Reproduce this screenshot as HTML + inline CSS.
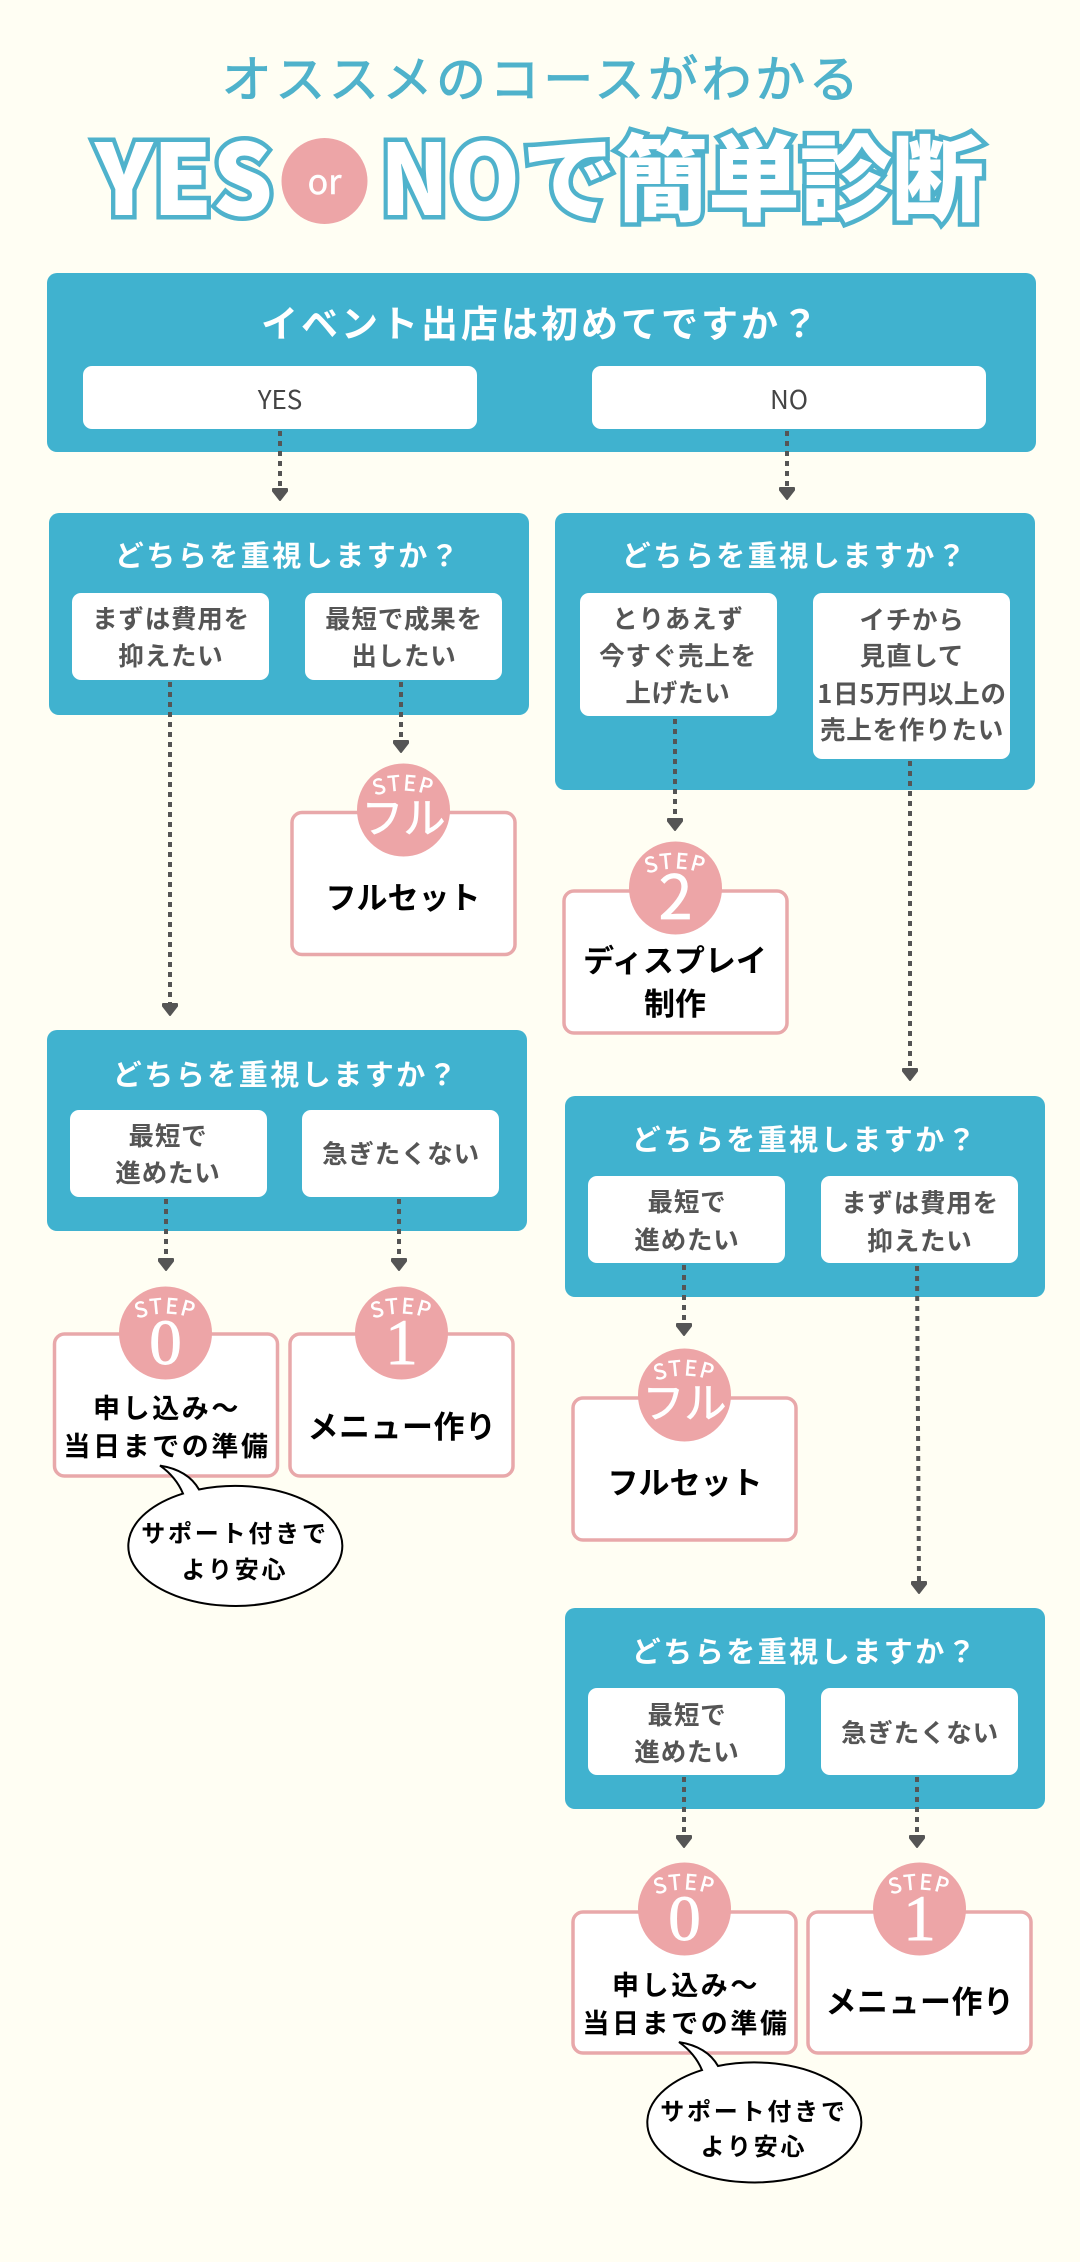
<!DOCTYPE html>
<html lang="ja">
<head>
<meta charset="utf-8">
<style>
html,body{margin:0;padding:0;background:#FFFEF3;}
svg{display:block;}
text{font-family:"Liberation Sans","Noto Sans CJK JP",sans-serif;text-anchor:middle;}
.jp{font-family:"Noto Sans CJK JP",sans-serif;}
.q{font-family:"Noto Sans CJK JP",sans-serif;font-size:29px;font-weight:700;letter-spacing:2.5px;fill:#fff;}
.o{font-family:"Noto Sans CJK JP",sans-serif;font-size:25.500px;font-weight:700;letter-spacing:.8px;fill:#555;}
.c{font-family:"Noto Sans CJK JP",sans-serif;font-size:31px;font-weight:700;fill:#000;}
.c2{font-family:"Noto Sans CJK JP",sans-serif;font-size:27px;font-weight:700;letter-spacing:2.6px;fill:#000;}
.b{font-family:"Noto Sans CJK JP",sans-serif;font-size:24px;font-weight:700;letter-spacing:2.8px;fill:#000;}
.h{font-family:"Noto Sans CJK JP",sans-serif;font-weight:900;fill:#fff;stroke:#4FB2CC;stroke-width:9px;paint-order:stroke;stroke-linejoin:miter;text-anchor:start;}
.s{font-family:"Noto Sans CJK JP",sans-serif;font-size:21px;font-weight:400;fill:#fff;stroke:#fff;stroke-width:.6px;letter-spacing:2px;}
.d{font-family:"Liberation Serif",serif;font-size:65px;font-weight:400;fill:#fff;stroke:#fff;stroke-width:.9px;}
.d2{font-family:"Noto Sans CJK JP",sans-serif;font-size:61px;font-weight:400;fill:#fff;stroke:#fff;stroke-width:.8px;}
.f{font-family:"Noto Sans CJK JP",sans-serif;font-size:42px;font-weight:400;fill:#fff;stroke:#fff;stroke-width:.8px;}
.box{fill:#40B2CF;}
.opt{fill:#fff;}
.card{fill:#fff;stroke:#E8A8AA;stroke-width:3.500;}
.circ{fill:#EDA5A7;}
.ln{stroke:#555;stroke-width:4;stroke-dasharray:5 5;fill:none;}
.hd{fill:#555;stroke:#555;stroke-width:2;stroke-linejoin:round;}
.bub{fill:#fff;stroke:#000;stroke-width:2;}
</style>
</head>
<body>
<svg xmlns="http://www.w3.org/2000/svg" width="1080" height="2262" viewBox="0 0 1080 2262">
<defs><path id="arc" d="M-50,-2 A80,80 0 0 1 50,-2"/></defs>
<rect width="1080" height="2262" fill="#FFFEF3"/>

<!-- Header -->
<text class="jp" x="542" y="97" font-size="50" font-weight="400" letter-spacing="3.600" fill="#4FB2CB" stroke="#4FB2CB" stroke-width="1">オススメのコースがわかる</text>
<text class="h" x="95" y="215" font-size="98" textLength="178" lengthAdjust="spacingAndGlyphs">YES</text>
<circle class="circ" cx="324.500" cy="181" r="43"/>
<text x="324.500" y="194" font-size="34" font-weight="400" class="jp" fill="#fff" stroke="#fff" stroke-width=".5">or</text>
<text class="h" x="380" y="215" font-size="98" textLength="140" lengthAdjust="spacingAndGlyphs">NO</text>
<text class="h" x="522" y="213" font-size="94">で</text>
<text class="h" x="616" y="213" font-size="94" textLength="368" lengthAdjust="spacingAndGlyphs">簡単診断</text>

<!-- Top question -->
<rect class="box" x="47" y="273" width="989" height="179" rx="10"/>
<text class="jp" x="541" y="337" font-size="37" font-weight="700" letter-spacing="3" fill="#fff">イベント出店は初めてですか？</text>
<rect class="opt" x="83" y="366" width="394" height="63" rx="9"/>
<rect class="opt" x="592" y="366" width="394" height="63" rx="9"/>
<text class="jp" x="280" y="409" font-size="26" fill="#444">YES</text>
<text class="jp" x="789" y="409" font-size="26" fill="#444">NO</text>
<line class="ln" x1="280" y1="431" x2="280" y2="490"/><polygon class="hd" points="273,489 287,489 287,491 280,500 273,491"/>
<line class="ln" x1="787" y1="431" x2="787" y2="489"/><polygon class="hd" points="780,488 794,488 794,490 787,499 780,490"/>

<!-- Left Q1 -->
<rect class="box" x="49" y="513" width="480" height="202" rx="10"/>
<text class="q" x="288" y="566">どちらを重視しますか？</text>
<rect class="opt" x="72" y="593" width="197" height="87" rx="9"/>
<rect class="opt" x="305" y="593" width="197" height="87" rx="9"/>
<text class="o" x="171" y="628">まずは費用を</text>
<text class="o" x="171" y="665">抑えたい</text>
<text class="o" x="404" y="628">最短で成果を</text>
<text class="o" x="404" y="665">出したい</text>
<line class="ln" x1="170" y1="682" x2="170" y2="1005"/><polygon class="hd" points="163,1004 177,1004 177,1006 170,1015 163,1006"/>
<line class="ln" x1="401" y1="682" x2="401" y2="742"/><polygon class="hd" points="394,741 408,741 408,743 401,752 394,743"/>

<!-- Left full set card -->
<rect class="card" x="292" y="812.500" width="223" height="142" rx="10"/>
<g transform="translate(403.500,810)"><circle class="circ" r="46.500"/><text class="s"><textPath href="#arc" startOffset="50%">STEP</textPath></text><text class="f" x="0" y="23">フル</text></g>
<text class="c" x="403" y="909">フルセット</text>

<!-- Left Q2 -->
<rect class="box" x="47" y="1030" width="480" height="201" rx="10"/>
<text class="q" x="286" y="1085">どちらを重視しますか？</text>
<rect class="opt" x="70" y="1110" width="197" height="87" rx="9"/>
<rect class="opt" x="302" y="1110" width="197" height="87" rx="9"/>
<text class="o" x="168" y="1145">最短で</text>
<text class="o" x="168" y="1182">進めたい</text>
<text class="o" x="401" y="1163">急ぎたくない</text>
<line class="ln" x1="166" y1="1199" x2="166" y2="1260"/><polygon class="hd" points="159,1259 173,1259 173,1261 166,1270 159,1261"/>
<line class="ln" x1="399" y1="1199" x2="399" y2="1260"/><polygon class="hd" points="392,1259 406,1259 406,1261 399,1270 392,1261"/>

<!-- Left cards -->
<rect class="card" x="54.500" y="1334" width="223" height="142" rx="10"/>
<rect class="card" x="290" y="1334" width="223" height="142" rx="10"/>
<g transform="translate(165.500,1333)"><circle class="circ" r="46.500"/><text class="s"><textPath href="#arc" startOffset="50%">STEP</textPath></text><text class="d" x="0" y="31">0</text></g>
<g transform="translate(401.500,1333)"><circle class="circ" r="46.500"/><text class="s"><textPath href="#arc" startOffset="50%">STEP</textPath></text><text class="d" x="0" y="31">1</text></g>
<text class="c2" x="167" y="1418">申し込み〜</text>
<text class="c2" x="167" y="1456">当日までの準備</text>
<text class="c" x="402" y="1438" letter-spacing=".5">メニュー作り</text>
<path class="bub" d="M199,1489.500 A107,60 0 1 1 183,1493.600 Q176,1477 160,1465.600 Q188,1470 199,1489.500 Z"/>
<text class="b" x="235" y="1542">サポート付きで</text>
<text class="b" x="235" y="1578">より安心</text>

<!-- Right Q1 -->
<rect class="box" x="555" y="513" width="480" height="277" rx="10"/>
<text class="q" x="795" y="566">どちらを重視しますか？</text>
<rect class="opt" x="580" y="593" width="197" height="123" rx="9"/>
<rect class="opt" x="813" y="593" width="197" height="166" rx="9"/>
<text class="o" x="678" y="628">とりあえず</text>
<text class="o" x="678" y="665">今すぐ売上を</text>
<text class="o" x="678" y="702">上げたい</text>
<text class="o" x="912" y="629">イチから</text>
<text class="o" x="912" y="665">見直して</text>
<text class="o" x="912" y="703" letter-spacing="0.5">1日5万円以上の</text>
<text class="o" x="912" y="739" letter-spacing="1.2">売上を作りたい</text>
<line class="ln" x1="675" y1="719" x2="675" y2="820"/><polygon class="hd" points="668,819 682,819 682,821 675,830 668,821"/>
<line class="ln" x1="910" y1="761" x2="910" y2="1070"/><polygon class="hd" points="903,1069 917,1069 917,1071 910,1080 903,1071"/>

<!-- Step 2 card -->
<rect class="card" x="564" y="891" width="223" height="142" rx="10"/>
<g transform="translate(675.500,888)"><circle class="circ" r="46.500"/><text class="s"><textPath href="#arc" startOffset="50%">STEP</textPath></text><text class="d2" x="0" y="31">2</text></g>
<text class="c" x="675" y="972">ディスプレイ</text>
<text class="c" x="675" y="1015">制作</text>

<!-- Right Q2 -->
<rect class="box" x="565" y="1096" width="480" height="201" rx="10"/>
<text class="q" x="805" y="1150">どちらを重視しますか？</text>
<rect class="opt" x="588" y="1176" width="197" height="87" rx="9"/>
<rect class="opt" x="821" y="1176" width="197" height="87" rx="9"/>
<text class="o" x="687" y="1211">最短で</text>
<text class="o" x="687" y="1249">進めたい</text>
<text class="o" x="920" y="1212">まずは費用を</text>
<text class="o" x="920" y="1250">抑えたい</text>
<line class="ln" x1="684" y1="1265" x2="684" y2="1325"/><polygon class="hd" points="677,1324 691,1324 691,1326 684,1335 677,1326"/>
<line class="ln" x1="917" y1="1266" x2="919" y2="1583"/><polygon class="hd" points="912,1582 926,1582 926,1584 919,1593 912,1584"/>

<!-- Right full set -->
<rect class="card" x="573" y="1398" width="223" height="142" rx="10"/>
<g transform="translate(684.500,1395)"><circle class="circ" r="46.500"/><text class="s"><textPath href="#arc" startOffset="50%">STEP</textPath></text><text class="f" x="0" y="23">フル</text></g>
<text class="c" x="685" y="1494">フルセット</text>

<!-- Right Q3 -->
<rect class="box" x="565" y="1608" width="480" height="201" rx="10"/>
<text class="q" x="805" y="1662">どちらを重視しますか？</text>
<rect class="opt" x="588" y="1688" width="197" height="87" rx="9"/>
<rect class="opt" x="821" y="1688" width="197" height="87" rx="9"/>
<text class="o" x="687" y="1724">最短で</text>
<text class="o" x="687" y="1761">進めたい</text>
<text class="o" x="920" y="1742">急ぎたくない</text>
<line class="ln" x1="684" y1="1777" x2="684" y2="1837"/><polygon class="hd" points="677,1836 691,1836 691,1838 684,1847 677,1838"/>
<line class="ln" x1="917" y1="1777" x2="917" y2="1837"/><polygon class="hd" points="910,1836 924,1836 924,1838 917,1847 910,1838"/>

<!-- Right bottom cards -->
<rect class="card" x="573" y="1912" width="223" height="141" rx="10"/>
<rect class="card" x="808" y="1912" width="223" height="141" rx="10"/>
<g transform="translate(684.500,1909)"><circle class="circ" r="46.500"/><text class="s"><textPath href="#arc" startOffset="50%">STEP</textPath></text><text class="d" x="0" y="31">0</text></g>
<g transform="translate(919.500,1909)"><circle class="circ" r="46.500"/><text class="s"><textPath href="#arc" startOffset="50%">STEP</textPath></text><text class="d" x="0" y="31">1</text></g>
<text class="c2" x="686" y="1995">申し込み〜</text>
<text class="c2" x="686" y="2033">当日までの準備</text>
<text class="c" x="920" y="2013" letter-spacing=".5">メニュー作り</text>
<g transform="translate(519,576.500)"><path class="bub" d="M199,1489.500 A107,60 0 1 1 183,1493.600 Q176,1477 160,1465.600 Q188,1470 199,1489.500 Z"/></g>
<text class="b" x="754" y="2120">サポート付きで</text>
<text class="b" x="754" y="2155">より安心</text>
</svg>
</body>
</html>
